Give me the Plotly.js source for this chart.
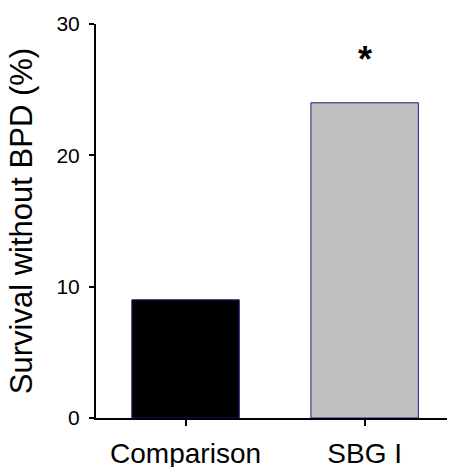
<!DOCTYPE html>
<html>
<head>
<meta charset="utf-8">
<script src="https://cdn.plot.ly/plotly-3.0.1.min.js"></script>
<style>
html,body{margin:0;padding:0;background:#fff;}
#chart{width:451px;height:467px;}
</style>
</head>
<body>
<div id="chart"></div>
<script>
const categories = ["Comparison", "SBG I"];
const survivalWithoutBPD = [9, 24];
const barColors = ["#000000", "#C0C0C0"];
const yTickValues = [0, 10, 20, 30];
const significanceMarks = ["", "*"];
const significanceY = [null, 27.3];

const FONT = "Liberation Sans, Arial, sans-serif";

const trace = {
  type: "bar",
  x: categories,
  y: survivalWithoutBPD,
  width: 0.6,
  marker: {
    color: barColors,
    line: {color: "#1a1a80", width: 1}
  },
  hoverinfo: "x+y"
};

const annotations = [];
categories.forEach((c, i) => {
  if (significanceMarks[i]) {
    annotations.push({
      x: c, y: significanceY[i], xref: "x", yref: "y",
      text: "<b>" + significanceMarks[i] + "</b>", showarrow: false,
      font: {family: FONT, size: 36, color: "#000"},
      xanchor: "center", yanchor: "middle"
    });
  }
});

const layout = {
  width: 451, height: 467,
  margin: {l: 96, r: 4, t: 23.5, b: 49.3, pad: 0},
  paper_bgcolor: "#fff", plot_bgcolor: "#fff",
  showlegend: false,
  xaxis: {
    type: "category",
    range: [-0.5, 1.46],
    showline: true, linecolor: "#000", linewidth: 2,
    ticks: "outside", ticklen: 6, tickwidth: 2, tickcolor: "#000",
    ticklabelstandoff: 3,
    showgrid: false, zeroline: false,
    tickfont: {family: FONT, size: 28, color: "#000"},
    automargin: false
  },
  yaxis: {
    range: [0, 30],
    tickvals: yTickValues,
    showline: true, linecolor: "#000", linewidth: 2,
    ticks: "outside", ticklen: 5, tickwidth: 2, tickcolor: "#000",
    ticklabelstandoff: 5,
    showgrid: false, zeroline: false,
    tickfont: {family: FONT, size: 21, color: "#000"},
    title: {text: "Survival without BPD (%)", font: {family: FONT, size: 31, color: "#000"}, standoff: 15},
    automargin: false
  },
  annotations: annotations
};

Plotly.newPlot("chart", [trace], layout, {displayModeBar: false, staticPlot: true});
</script>
</body>
</html>
